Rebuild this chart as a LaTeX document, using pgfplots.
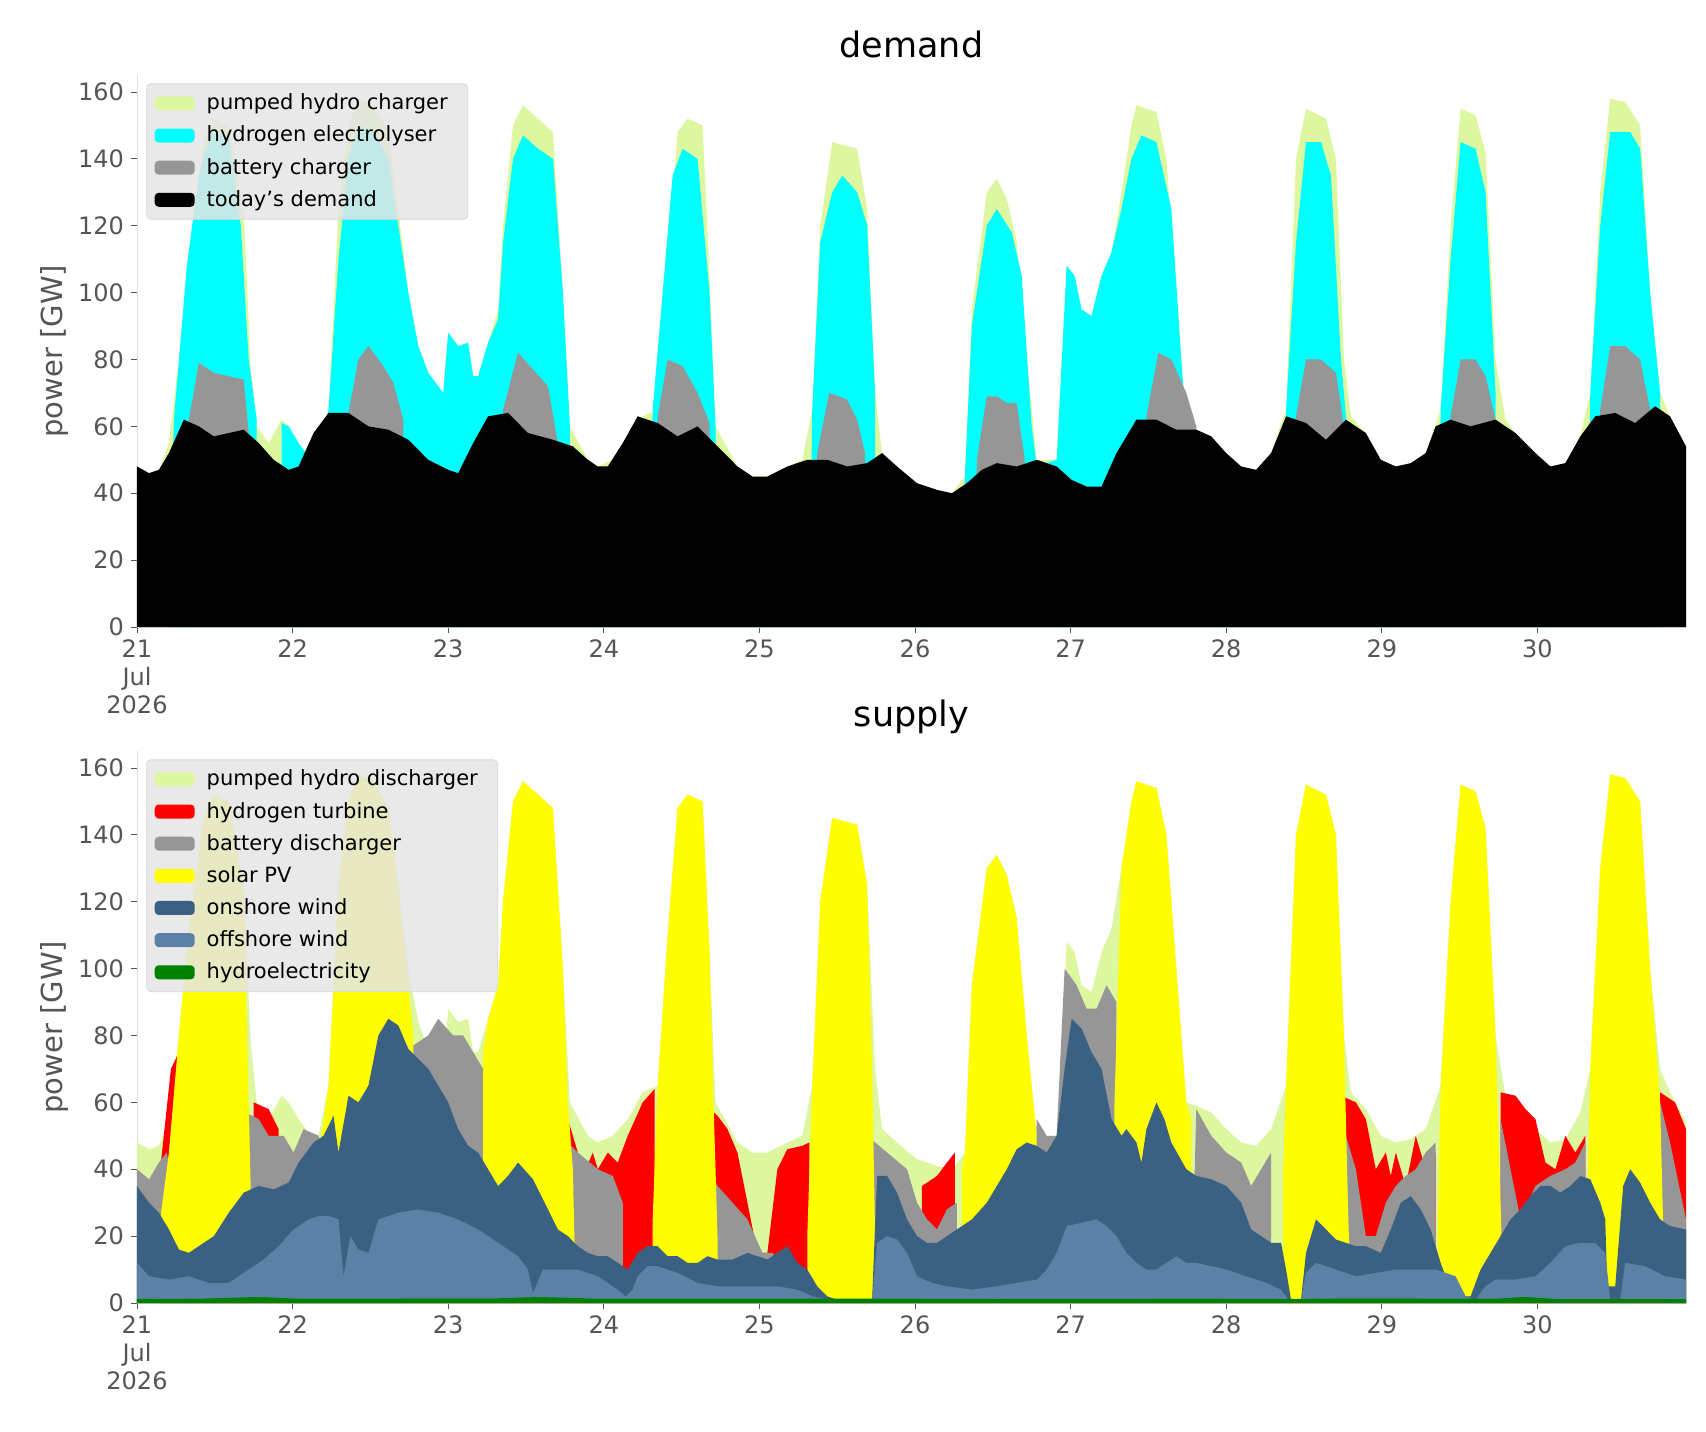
\documentclass[border=0pt]{standalone}
\usepackage{pgfplots}
\pgfplotsset{compat=1.18}
\usepackage{fontspec}
\setmainfont{DejaVu Sans}
\definecolor{lg}{HTML}{DCF7A0}
\definecolor{bgr}{HTML}{969696}
\definecolor{cy}{HTML}{00FFFF}
\definecolor{ye}{HTML}{FFFF00}
\definecolor{rd}{HTML}{FF0000}
\definecolor{gn}{HTML}{008000}
\definecolor{onw}{HTML}{3B6182}
\definecolor{offw}{HTML}{5B82A6}
\definecolor{tk}{HTML}{555555}
\pgfplotsset{
  myax/.style={
    scale only axis, width=774.5pt, height=275.9pt,
    xmin=0, xmax=9.955, ymin=0, ymax=165,
    x filter/.expression={(x-138)/156},
    axis x line*=bottom, axis y line*=left,
    axis line style={gray!25},
    xtick={0,1,...,9}, xticklabels={{21\\Jul\\2026},22,23,24,25,26,27,28,29,30},
    xticklabel style={align=center, anchor=north, text=tk, font=\fontsize{12}{14}\selectfont},
    ytick={0,20,...,160},
    yticklabel style={text=tk, font=\fontsize{12}{14}\selectfont},
    /pgf/number format/assume math mode=true,
    tick style={tk, thin}, tick align=outside, major tick length=3pt,
    ylabel={power [GW]}, ylabel style={text=tk, font=\fontsize{14.5}{16}\selectfont, yshift=-2pt},
    title style={font=\fontsize{17.5}{20}\selectfont, yshift=-1pt},
    legend cell align=left,
    legend style={at={(0.006,0.985)}, anchor=north west, fill=gray!20, fill opacity=0.85, text opacity=1, draw=gray!30, rounded corners=2pt, font=\fontsize{10.5}{12}\selectfont, row sep=2.6pt, inner xsep=4pt, inner ysep=3pt},
    legend image code/.code={\path[#1, fill opacity=1] (0pt,-3.5pt) rectangle (20pt,3.5pt);},
    every axis legend/.append style={nodes={inner xsep=6pt}},
  }
}
\begin{document}
\begin{tikzpicture}
\useasboundingbox (-68.5pt,-402pt) rectangle (784.5pt,313.5pt);
\begin{axis}[myax, at={(0,0)}, anchor=south west, title={demand}]
\addplot[fill=lg, draw=none] coordinates {(138,0)(138,48)(150,46)(160,47)(170,55)(180,80)(190,112)(205,145)(215,152)(230,150)(245,124)(252,78)(258,60)(270,55)(283,62)(290,60)(300,55)(310,51)(320,50)(330,65)(340,125)(350,150)(360,158)(375,156)(390,148)(400,125)(410,100)(420,84)(430,76)(440,72)(445,70)(450,88)(460,84)(470,85)(475,75)(480,75)(490,85)(500,95)(505,120)(515,150)(525,156)(540,152)(555,148)(565,100)(572,60)(590,50)(600,48)(615,50)(630,55)(645,63)(660,65)(670,110)(680,148)(690,152)(705,150)(712,105)(718,60)(740,48)(755,45)(770,45)(790,48)(805,50)(815,65)(823,120)(835,145)(860,143)(870,125)(878,70)(885,52)(900,48)(920,43)(940,41)(955,40)(968,45)(975,95)(990,130)(1000,134)(1010,128)(1020,115)(1030,80)(1040,50)(1050,50)(1060,50)(1065,70)(1070,108)(1078,105)(1085,95)(1095,93)(1105,105)(1115,112)(1125,130)(1135,150)(1140,156)(1160,154)(1170,140)(1180,100)(1190,60)(1200,59)(1215,57)(1230,52)(1245,48)(1260,47)(1275,52)(1290,65)(1300,140)(1310,155)(1330,152)(1340,140)(1348,80)(1355,63)(1370,58)(1385,50)(1400,48)(1415,49)(1430,52)(1445,65)(1455,120)(1465,155)(1480,153)(1490,142)(1500,80)(1510,62)(1520,58)(1540,52)(1555,48)(1570,49)(1585,57)(1595,70)(1605,130)(1615,158)(1630,157)(1645,150)(1655,100)(1665,70)(1675,63)(1691,54)(1691,0)} \closedcycle;
\addlegendentry{pumped hydro charger}
\addplot[fill=cy, draw=none] coordinates {(170,0)(175,62)(188,108)(200,135)(212,148)(230,146)(242,120)(250,80)(258,62)(258,0)
(283,0)(283,61)(290,60)(300,55)(310,51)(315,52)(320,50)(330,65)(340,110)(350,140)(360,150)(375,148)(390,140)(400,120)(410,100)(420,84)(430,76)(440,72)(445,70)(450,88)(460,84)(470,85)(475,75)(480,75)(490,85)(500,92)(505,115)(515,140)(525,147)(540,143)(555,140)(565,100)(572,60)(572,0)
(650,0)(655,65)(665,100)(675,135)(685,143)(700,140)(712,100)(718,60)(718,0)
(812,0)(815,65)(823,115)(835,130)(845,135)(860,130)(870,120)(878,70)(878,0)
(965,0)(968,45)(975,90)(990,120)(1000,125)(1015,118)(1025,105)(1035,60)(1040,48)(1060,50)(1070,108)(1078,105)(1085,95)(1095,93)(1105,105)(1115,112)(1125,125)(1135,140)(1145,147)(1160,145)(1175,125)(1185,80)(1190,58)(1190,0)
(1287,0)(1290,65)(1300,115)(1310,145)(1325,145)(1335,135)(1345,80)(1350,63)(1350,0)
(1442,0)(1445,65)(1455,110)(1465,145)(1480,143)(1490,130)(1500,70)(1500,0)
(1592,0)(1595,70)(1605,120)(1615,148)(1635,148)(1645,143)(1655,100)(1665,70)(1665,0)} \closedcycle;
\addlegendentry{hydrogen electrolyser}
\addplot[fill=bgr, draw=none] coordinates {(188,0)(190,62)(200,79)(215,76)(230,75)(245,74)(250,58)(250,0)
(348,0)(350,64)(360,80)(370,84)(385,78)(395,73)(405,62)(405,0)
(503,0)(505,65)(520,82)(535,77)(550,72)(560,55)(560,0)
(658,0)(660,63)(670,80)(685,78)(700,70)(712,61)(712,0)
(818,0)(820,52)(832,70)(850,68)(860,62)(868,52)(868,0)
(978,0)(980,50)(990,69)(1000,69)(1010,67)(1020,67)(1028,50)(1028,0)
(1148,0)(1150,63)(1162,82)(1175,80)(1190,70)(1200,60)(1200,0)
(1298,0)(1300,63)(1310,80)(1325,80)(1340,76)(1348,60)(1348,0)
(1453,0)(1455,63)(1465,80)(1480,80)(1490,75)(1500,62)(1500,0)
(1603,0)(1605,65)(1615,84)(1630,84)(1645,80)(1655,65)(1655,0)} \closedcycle;
\addlegendentry{battery charger}
\addplot[fill=black, draw=none] coordinates {(138,0)(138,48)(150,46)(160,47)(170,52)(185,62)(200,60)(215,57)(230,58)(245,59)(260,55)(275,50)(290,47)(300,48)(315,58)(330,64)(350,64)(370,60)(390,59)(410,56)(430,50)(450,47)(460,46)(475,55)(490,63)(510,64)(530,58)(555,56)(575,54)(590,50)(600,48)(610,48)(625,55)(640,63)(660,61)(680,57)(700,60)(720,54)(740,48)(755,45)(770,45)(790,48)(810,50)(830,50)(850,48)(870,49)(885,52)(900,48)(920,43)(940,41)(955,40)(970,43)(985,47)(1000,49)(1020,48)(1040,50)(1060,48)(1075,44)(1090,42)(1105,42)(1120,52)(1140,62)(1160,62)(1180,59)(1200,59)(1215,57)(1230,52)(1245,48)(1260,47)(1275,52)(1290,63)(1310,61)(1330,56)(1350,62)(1370,58)(1385,50)(1400,48)(1415,49)(1430,52)(1440,60)(1455,62)(1475,60)(1500,62)(1520,58)(1540,52)(1555,48)(1570,49)(1585,57)(1600,63)(1620,64)(1640,61)(1660,66)(1675,63)(1691,54)(1691,0)} \closedcycle;
\addlegendentry{today's demand}
\end{axis}
\begin{axis}[myax, at={(0,-338pt)}, anchor=south west, title={supply}]
\addplot[fill=lg, draw=none] coordinates {(138,0)(138,48)(150,46)(160,47)(170,55)(180,80)(190,112)(205,145)(215,152)(230,150)(245,124)(252,78)(258,60)(270,55)(283,62)(290,60)(300,55)(310,51)(320,50)(330,65)(340,125)(350,150)(360,158)(375,156)(390,148)(400,125)(410,100)(420,84)(430,76)(440,72)(445,70)(450,88)(460,84)(470,85)(475,75)(480,75)(490,85)(500,95)(505,120)(515,150)(525,156)(540,152)(555,148)(565,100)(572,60)(590,50)(600,48)(615,50)(630,55)(645,63)(660,65)(670,110)(680,148)(690,152)(705,150)(712,105)(718,60)(740,48)(755,45)(770,45)(790,48)(805,50)(815,65)(823,120)(835,145)(860,143)(870,125)(878,70)(885,52)(900,48)(920,43)(940,41)(955,40)(968,45)(975,95)(990,130)(1000,134)(1010,128)(1020,115)(1030,80)(1040,50)(1050,50)(1060,50)(1065,70)(1070,108)(1078,105)(1085,95)(1095,93)(1105,105)(1115,112)(1125,130)(1135,150)(1140,156)(1160,154)(1170,140)(1180,100)(1190,60)(1200,59)(1215,57)(1230,52)(1245,48)(1260,47)(1275,52)(1290,65)(1300,140)(1310,155)(1330,152)(1340,140)(1348,80)(1355,63)(1370,58)(1385,50)(1400,48)(1415,49)(1430,52)(1445,65)(1455,120)(1465,155)(1480,153)(1490,142)(1500,80)(1510,62)(1520,58)(1540,52)(1555,48)(1570,49)(1585,57)(1595,70)(1605,130)(1615,158)(1630,157)(1645,150)(1655,100)(1665,70)(1675,63)(1691,54)(1691,0)} \closedcycle;
\addlegendentry{pumped hydro discharger}
\addplot[fill=rd, draw=none] coordinates {(162,0)(162,42)(172,70)(180,75)(180,0)
(255,0)(255,60)(270,58)(280,52)(280,0)
(565,0)(565,60)(580,45)(585,38)(595,45)(600,40)(610,45)(620,42)(630,50)(645,60)(657,64)(657,0)
(705,0)(705,60)(720,56)(730,52)(740,45)(750,30)(760,15)(770,15)(780,40)(790,46)(805,47)(812,48)(812,0)
(925,0)(925,35)(940,38)(950,42)(958,45)(958,0)
(1345,0)(1345,62)(1360,60)(1370,55)(1380,40)(1390,45)(1395,38)(1400,45)(1410,35)(1420,50)(1430,40)(1440,45)(1440,0)
(1505,0)(1505,63)(1520,62)(1530,58)(1540,55)(1550,42)(1560,40)(1570,50)(1580,45)(1590,50)(1590,0)
(1665,0)(1665,63)(1680,60)(1691,52)(1691,0)} \closedcycle;
\addlegendentry{hydrogen turbine}
\addplot[fill=bgr, draw=none] coordinates {(138,0)(138,40)(150,37)(160,42)(168,45)(175,30)(175,0)
(240,0)(240,58)(260,55)(270,50)(285,50)(295,45)(305,52)(320,50)(330,40)(330,0)
(400,0)(400,75)(410,76)(430,80)(440,85)(455,80)(465,80)(475,75)(485,70)(485,0)
(555,0)(555,50)(570,48)(580,45)(600,40)(615,38)(625,30)(625,0)
(695,0)(695,40)(710,42)(720,35)(735,30)(750,25)(765,15)(775,15)(790,10)(790,0)
(858,0)(860,55)(870,50)(890,45)(910,40)(920,30)(930,25)(940,22)(950,28)(960,30)(960,0)
(1035,0)(1040,55)(1050,50)(1060,50)(1068,100)(1080,95)(1090,88)(1100,88)(1110,95)(1120,90)(1120,0)
(1195,0)(1200,58)(1215,50)(1230,45)(1245,42)(1255,35)(1265,40)(1275,45)(1275,0)
(1345,0)(1350,50)(1360,40)(1370,20)(1380,20)(1390,30)(1400,35)(1410,38)(1420,40)(1430,45)(1440,48)(1440,0)
(1505,0)(1505,55)(1515,40)(1525,25)(1540,35)(1555,38)(1570,40)(1580,42)(1590,48)(1590,0)
(1660,0)(1665,60)(1675,48)(1691,25)(1691,0)} \closedcycle;
\addlegendentry{battery discharger}
\addplot[fill=ye, draw=none] coordinates {(150,0)(150,20)(160,22)(170,45)(180,80)(190,112)(205,145)(215,152)(230,150)(245,124)(250,60)(252,34)(252,0)
(318,0)(318,40)(330,65)(340,125)(350,150)(360,158)(375,156)(390,148)(400,125)(410,95)(415,80)(415,0)
(485,0)(485,75)(490,85)(500,95)(505,120)(515,150)(525,156)(540,152)(555,148)(565,100)(570,60)(575,40)(578,0)
(655,0)(655,25)(660,65)(670,110)(680,148)(690,152)(705,150)(712,105)(716,60)(720,20)(720,0)
(810,0)(810,20)(815,65)(823,120)(835,145)(860,143)(870,125)(875,70)(878,20)(878,0)
(965,0)(965,40)(968,45)(975,95)(990,130)(1000,134)(1010,128)(1020,115)(1030,80)(1040,50)(1040,0)
(1118,0)(1118,60)(1125,130)(1135,150)(1140,156)(1160,154)(1170,140)(1180,100)(1190,60)(1195,55)(1195,0)
(1287,0)(1287,40)(1290,65)(1300,140)(1310,155)(1330,152)(1340,140)(1348,80)(1352,30)(1355,0)
(1442,0)(1442,20)(1445,65)(1455,120)(1465,155)(1480,153)(1490,142)(1500,80)(1505,30)(1508,0)
(1592,0)(1592,30)(1595,70)(1605,130)(1615,158)(1630,157)(1645,150)(1655,100)(1665,60)(1670,0)} \closedcycle;
\addlegendentry{solar PV}
\addplot[fill=onw, draw=none] coordinates {(138,0)(138,35)(150,30)(160,27)(170,22)(180,16)(190,15)(200,17)(215,20)(230,27)(245,33)(260,35)(275,34)(290,36)(300,42)(315,48)(325,50)(335,56)(340,45)(350,62)(360,60)(370,65)(380,80)(390,85)(400,83)(410,76)(420,73)(430,70)(440,65)(450,60)(460,52)(470,47)(480,45)(490,40)(500,35)(510,38)(520,42)(535,37)(550,28)(560,22)(570,20)(580,17)(590,15)(600,14)(610,14)(620,12)(630,10)(640,15)(650,17)(660,17)(670,14)(680,14)(690,12)(700,12)(710,14)(720,13)(735,13)(750,15)(760,14)(770,13)(780,15)(790,17)(800,12)(810,10)(820,5)(830,2)(840,1)(850,1)(875,1)(880,38)(890,38)(900,33)(910,25)(920,20)(930,18)(940,18)(950,20)(960,22)(975,25)(990,30)(1000,35)(1010,40)(1020,46)(1030,48)(1040,47)(1050,45)(1060,50)(1068,70)(1075,85)(1085,82)(1095,75)(1105,70)(1115,55)(1125,50)(1130,52)(1140,48)(1145,42)(1150,52)(1160,60)(1168,55)(1175,48)(1190,40)(1200,38)(1215,37)(1230,35)(1245,30)(1255,22)(1265,20)(1275,18)(1285,18)(1290,10)(1295,1)(1305,1)(1310,15)(1320,25)(1330,22)(1340,19)(1350,18)(1360,17)(1370,17)(1385,15)(1395,22)(1405,30)(1415,32)(1425,28)(1435,22)(1445,12)(1455,4)(1465,2)(1475,2)(1485,10)(1495,15)(1505,20)(1515,25)(1525,28)(1535,32)(1545,35)(1555,35)(1565,33)(1575,35)(1585,38)(1595,37)(1605,30)(1610,25)(1612,5)(1620,5)(1628,35)(1635,40)(1645,36)(1655,30)(1665,25)(1675,23)(1691,22)(1691,0)} \closedcycle;
\addlegendentry{onshore wind}
\addplot[fill=offw, draw=none] coordinates {(138,0)(138,12)(150,8)(170,7)(190,8)(210,6)(230,6)(250,10)(265,13)(280,17)(295,22)(310,25)(320,26)(330,26)(340,25)(345,8)(352,20)(360,16)(370,15)(380,25)(400,27)(420,28)(440,27)(460,25)(480,22)(500,18)(520,14)(530,10)(535,3)(545,10)(560,10)(580,10)(600,8)(620,4)(628,2)(635,4)(640,8)(650,11)(660,11)(680,9)(700,6)(720,5)(740,5)(760,5)(780,5)(800,4)(815,2)(830,1)(875,1)(880,18)(890,20)(900,19)(910,15)(920,8)(935,6)(950,5)(975,4)(1000,5)(1020,6)(1040,7)(1050,10)(1060,15)(1070,23)(1085,24)(1100,25)(1110,23)(1120,20)(1130,15)(1140,12)(1150,10)(1160,10)(1170,12)(1180,14)(1190,12)(1200,12)(1215,11)(1230,10)(1250,8)(1270,6)(1285,4)(1292,1)(1305,1)(1310,9)(1320,12)(1340,10)(1360,8)(1380,9)(1400,10)(1420,10)(1440,10)(1460,8)(1470,2)(1480,1)(1490,5)(1500,7)(1520,7)(1540,8)(1555,12)(1570,17)(1585,18)(1600,18)(1610,15)(1615,1)(1625,1)(1630,12)(1650,11)(1670,8)(1691,7)(1691,0)} \closedcycle;
\addlegendentry{offshore wind}
\addplot[fill=gn, draw=none] coordinates {(138,0)(138,1.2)(200,1.3)(260,1.8)(300,1.3)(500,1.4)(540,1.8)(600,1.3)(900,1.3)(1000,1.2)(1200,1.3)(1300,1.2)(1350,1.4)(1500,1.3)(1530,1.8)(1560,1.2)(1691,1.2)(1691,0)} \closedcycle;
\addlegendentry{hydroelectricity}
\end{axis}
\end{tikzpicture}
\end{document}
